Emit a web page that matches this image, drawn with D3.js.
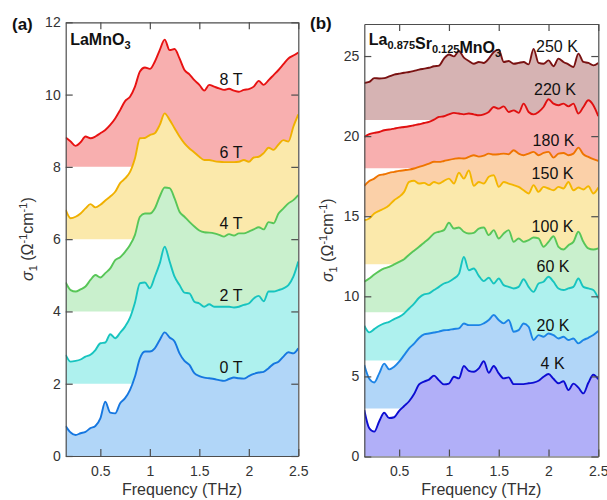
<!DOCTYPE html>
<html>
<head>
<meta charset="utf-8">
<script src="https://cdn.jsdelivr.net/npm/d3@7"></script>
<style>
  body { margin: 0; background: #fff; }
  svg { display: block; font-family: "Liberation Sans", Arial, sans-serif; }
</style>
</head>
<body>
<svg id="fig" width="607" height="500"></svg>
<script>
// Frequency grid (THz) shared by every spectrum
const freqTHz = [0.15, 0.2, 0.25, 0.3, 0.35, 0.4, 0.45, 0.5, 0.55, 0.6,
  0.65, 0.7, 0.75, 0.8, 0.85, 0.9, 0.95, 1.0, 1.05, 1.1,
  1.15, 1.2, 1.25, 1.3, 1.35, 1.4, 1.45, 1.5, 1.55, 1.6,
  1.65, 1.7, 1.75, 1.8, 1.85, 1.9, 1.95, 2.0, 2.05, 2.1,
  2.15, 2.2, 2.25, 2.3, 2.35, 2.4, 2.45, 2.5]

// (a) LaMnO3, sigma_1 as plotted (curves stacked by 2 per field)
const fieldLabels = ["0 T", "2 T", "4 T", "6 T", "8 T"]
const fieldBaselines = [0, 2, 4, 6, 8]
const sigma0T = [0.83, 0.65, 0.58, 0.63, 0.67, 0.77, 0.83, 1.04, 1.50, 1.20,
  1.18, 1.46, 1.60, 1.83, 2.20, 2.70, 2.89, 2.89, 2.98, 3.21,
  3.42, 3.28, 3.17, 2.84, 2.63, 2.52, 2.29, 2.21, 2.17, 2.15,
  2.13, 2.10, 2.08, 2.13, 2.17, 2.15, 2.14, 2.21, 2.27, 2.31,
  2.33, 2.43, 2.55, 2.61, 2.75, 2.87, 2.84, 2.98]
const sigma2T = [2.80, 2.61, 2.63, 2.67, 2.75, 2.80, 2.93, 3.12, 3.14, 3.37,
  3.26, 3.41, 3.58, 3.83, 4.25, 4.78, 4.80, 4.64, 4.96, 5.33,
  5.79, 5.38, 4.96, 4.73, 4.52, 4.50, 4.27, 4.22, 4.13, 4.20,
  4.13, 4.13, 4.13, 4.13, 4.11, 4.13, 4.18, 4.22, 4.36, 4.43,
  4.28, 4.55, 4.55, 4.59, 4.64, 4.73, 4.96, 5.38]
const sigma4T = [4.80, 4.59, 4.55, 4.61, 4.69, 4.87, 5.01, 4.94, 5.06, 5.19,
  5.42, 5.50, 5.65, 5.84, 6.12, 6.62, 6.71, 6.71, 6.85, 7.18,
  7.43, 7.41, 7.13, 6.76, 6.62, 6.48, 6.35, 6.24, 6.19, 6.18,
  6.16, 6.12, 6.07, 6.14, 6.10, 6.16, 6.16, 6.21, 6.27, 6.33,
  6.27, 6.47, 6.44, 6.71, 6.85, 6.99, 7.08, 7.22]
const sigma6T = [6.81, 6.58, 6.62, 6.71, 6.85, 6.97, 6.88, 6.95, 7.07, 7.18,
  7.31, 7.55, 7.68, 7.86, 8.24, 8.79, 8.80, 8.88, 8.93, 9.16,
  9.48, 9.30, 9.07, 8.84, 8.65, 8.51, 8.40, 8.28, 8.19, 8.19,
  8.16, 8.14, 8.13, 8.13, 8.13, 8.14, 8.19, 8.14, 8.26, 8.28,
  8.38, 8.53, 8.47, 8.62, 8.74, 8.70, 9.11, 9.45]
const sigma8T = [8.81, 8.70, 8.58, 8.68, 8.84, 8.79, 8.84, 8.93, 9.02, 9.16,
  9.34, 9.57, 9.82, 9.94, 10.22, 10.64, 10.75, 10.71, 10.91, 11.23,
  11.52, 11.23, 11.26, 11.00, 10.68, 10.56, 10.40, 10.27, 10.11, 10.27,
  10.22, 10.17, 10.13, 10.16, 10.11, 10.08, 10.13, 10.15, 10.22, 10.38,
  10.27, 10.40, 10.54, 10.68, 10.84, 11.00, 11.08, 11.16]

// (b) La0.875Sr0.125MnO3, sigma_1 as plotted (curves stacked by 3 per temperature)
const tempLabels = ["4 K", "20 K", "60 K", "100 K", "150 K", "180 K", "220 K", "250 K"]
const tempBaselines = [0, 3, 6, 9, 12, 15, 18, 21]
const sigma4K = [2.90, 1.76, 1.55, 2.20, 2.73, 2.40, 2.45, 2.85, 3.15, 3.45,
  3.90, 4.50, 4.68, 4.80, 5.05, 4.75, 4.50, 4.55, 4.98, 4.88,
  5.65, 5.35, 5.29, 5.50, 5.95, 5.23, 5.65, 5.19, 4.88, 4.94,
  4.52, 4.52, 4.52, 4.57, 4.61, 4.73, 4.98, 5.15, 4.85, 4.57,
  4.70, 4.15, 4.55, 4.30, 3.94, 4.60, 5.10, 4.82]
const sigma20K = [5.71, 4.85, 4.62, 5.19, 5.80, 5.44, 5.60, 5.92, 6.33, 6.75,
  7.05, 7.40, 7.62, 7.68, 7.74, 7.80, 7.88, 7.90, 7.96, 8.00,
  8.30, 8.20, 8.20, 8.20, 8.31, 8.52, 8.83, 8.52, 8.31, 8.52,
  7.79, 7.89, 8.30, 8.10, 7.27, 7.58, 7.48, 7.68, 7.58, 7.37,
  7.48, 7.27, 7.37, 7.06, 7.27, 7.41, 7.58, 7.83]
const sigma60K = [8.16, 7.75, 7.95, 8.16, 8.31, 8.41, 8.58, 8.72, 8.93, 9.24,
  9.55, 9.91, 10.12, 10.18, 10.39, 10.59, 10.80, 10.91, 11.11, 11.40,
  12.45, 11.63, 11.74, 11.28, 10.95, 11.16, 10.80, 11.11, 10.70, 10.59,
  10.49, 10.59, 11.07, 10.59, 10.28, 10.80, 10.91, 11.22, 10.91, 10.49,
  10.39, 10.49, 10.59, 11.11, 10.59, 10.49, 10.39, 9.87]
const sigma100K = [10.91, 11.11, 11.36, 11.57, 11.74, 11.84, 11.99, 12.15, 12.32, 12.60,
  12.85, 13.09, 13.35, 13.61, 13.92, 14.03, 14.13, 14.59, 14.23, 14.30,
  14.03, 13.92, 13.96, 14.23, 14.30, 13.82, 14.13, 13.61, 13.92, 14.13,
  13.40, 13.61, 13.40, 13.51, 13.67, 13.61, 13.09, 13.40, 13.75, 13.09,
  12.92, 13.19, 13.40, 14.03, 13.40, 12.99, 12.92, 12.99]
const sigma150K = [14.75, 14.86, 15.17, 15.34, 15.48, 15.69, 16.00, 16.21, 16.52, 17.14,
  17.21, 17.04, 17.08, 16.94, 17.14, 17.04, 17.21, 17.35, 17.04, 17.71,
  17.35, 17.85, 16.90, 17.14, 17.04, 17.46, 17.56, 16.83, 17.14, 17.04,
  16.94, 16.83, 16.62, 16.42, 16.94, 16.52, 16.83, 16.73, 16.62, 16.83,
  16.73, 17.14, 16.62, 16.79, 16.67, 16.87, 16.42, 16.79]
const sigma180K = [16.90, 17.20, 17.35, 17.56, 17.62, 17.71, 17.77, 17.83, 17.87, 17.91,
  17.98, 18.08, 18.18, 18.29, 18.40, 18.39, 18.45, 18.52, 18.58, 18.62,
  18.60, 18.70, 18.81, 18.72, 18.78, 18.91, 18.85, 18.87, 18.91, 18.87,
  19.12, 18.91, 18.81, 18.91, 19.02, 18.81, 18.95, 19.02, 18.66, 18.91,
  18.95, 18.81, 18.91, 19.28, 18.87, 18.70, 18.56, 18.45]
const sigma220K = [19.95, 20.12, 20.20, 20.26, 20.37, 20.41, 20.47, 20.53, 20.57, 20.62,
  20.68, 20.74, 20.82, 20.89, 21.03, 21.20, 21.24, 21.36, 21.45, 21.41,
  21.36, 21.41, 21.36, 21.30, 21.36, 21.51, 21.82, 21.72, 21.86, 21.51,
  21.61, 21.45, 22.03, 21.51, 21.36, 21.51, 21.82, 22.30, 22.03, 21.93,
  22.03, 21.86, 22.03, 21.41, 21.82, 22.24, 21.93, 21.24]
const sigma250K = [23.32, 23.38, 23.62, 23.60, 23.62, 23.73, 23.84, 23.90, 23.96, 24.00,
  24.07, 24.15, 24.21, 24.27, 24.36, 24.40, 24.84, 25.10, 24.98, 25.31,
  24.90, 24.69, 24.52, 24.63, 24.57, 24.84, 25.25, 25.40, 24.63, 24.69,
  24.52, 24.57, 24.63, 24.48, 25.45, 24.57, 24.52, 24.73, 24.36, 24.84,
  24.63, 24.48, 24.32, 25.15, 24.63, 24.57, 24.42, 24.57]

const freqTicks = [0.5, 1, 1.5, 2, 2.5]
const fieldTicks = [0, 2, 4, 6, 8, 10, 12]
const tempTicks = [0, 5, 10, 15, 20, 25]

const svg = d3.select("#fig")
const axisColor = "#4d4d4d"

function drawPanel(cfg) {
  const x = d3.scaleLinear().domain([0.15, 2.5]).range([cfg.left, cfg.right])
  const y = d3.scaleLinear().domain(cfg.yDomain).range([cfg.bottom, cfg.top])
  const g = svg.append("g")

  const clipId = "clip-" + cfg.key
  g.append("clipPath").attr("id", clipId)
    .append("rect")
    .attr("x", cfg.left).attr("y", cfg.top)
    .attr("width", cfg.right - cfg.left).attr("height", cfg.bottom - cfg.top)
  const plot = g.append("g").attr("clip-path", `url(#${clipId})`)

  // topmost curve first, so each lower fill sits in front of the one above
  for (let i = cfg.series.length - 1; i >= 0; i--) {
    const s = cfg.series[i]
    const pts = freqTHz.map((f, k) => [f, s.values[k]])
    const area = d3.area()
      .x(d => x(d[0]))
      .y0(y(s.base))
      .y1(d => y(d[1]))
      .curve(d3.curveMonotoneX)
    const line = d3.line()
      .x(d => x(d[0]))
      .y(d => y(d[1]))
      .curve(d3.curveMonotoneX)
    plot.append("path").attr("d", area(pts)).attr("fill", s.fill)
    plot.append("path").attr("d", line(pts))
      .attr("fill", "none")
      .attr("stroke", s.stroke)
      .attr("stroke-width", 1.9)
      .attr("stroke-linejoin", "round")
  }

  // Frame with inward ticks on all sides
  const bottom = g.append("g").attr("transform", `translate(0,${cfg.bottom})`)
    .call(d3.axisBottom(x).tickValues(freqTicks).tickFormat(d3.format("~g"))
      .tickSizeInner(-7).tickSizeOuter(0).tickPadding(10))
  const top = g.append("g").attr("transform", `translate(0,${cfg.top})`)
    .call(d3.axisTop(x).tickValues(freqTicks).tickFormat("")
      .tickSizeInner(-7).tickSizeOuter(0))
  const left = g.append("g").attr("transform", `translate(${cfg.left},0)`)
    .call(d3.axisLeft(y).tickValues(cfg.yTicks).tickFormat(d3.format("d"))
      .tickSizeInner(-7).tickSizeOuter(0).tickPadding(5))
  const right = g.append("g").attr("transform", `translate(${cfg.right},0)`)
    .call(d3.axisRight(y).tickValues(cfg.yTicks).tickFormat("")
      .tickSizeInner(-7).tickSizeOuter(0))

  ;[bottom, top, left, right].forEach(a => {
    a.select(".domain").attr("stroke", axisColor).attr("stroke-width", 1.2)
    a.selectAll(".tick line").attr("stroke", axisColor).attr("stroke-width", 1.2)
    a.selectAll(".tick text")
      .attr("fill", "#333")
      .style("font-family", '"Liberation Sans", Arial, sans-serif')
      .style("font-size", "14px")
  })

  // x label
  g.append("text")
    .attr("x", (cfg.left + cfg.right) / 2)
    .attr("y", 495)
    .attr("text-anchor", "middle")
    .attr("fill", "#333")
    .style("font-size", "16px")
    .text("Frequency (THz)")

  // y label: σ1 (Ω-1cm-1)
  const yl = g.append("text")
    .attr("transform", `translate(${cfg.yLabelX},${(cfg.top + cfg.bottom) / 2}) rotate(-90)`)
    .attr("text-anchor", "middle")
    .attr("fill", "#333")
    .style("font-size", "16px")
  yl.append("tspan").style("font-style", "italic").text("σ")
  yl.append("tspan").attr("dy", 4).style("font-size", "11px").text("1")
  yl.append("tspan").attr("dy", -4).text(" (Ω")
  yl.append("tspan").attr("dy", -6).style("font-size", "11px").text("-1")
  yl.append("tspan").attr("dy", 6).text("cm")
  yl.append("tspan").attr("dy", -6).style("font-size", "11px").text("-1")
  yl.append("tspan").attr("dy", 6).text(")")

  // curve labels
  cfg.series.forEach(s => {
    g.append("text")
      .attr("x", x(s.labelAt[0]))
      .attr("y", y(s.labelAt[1]))
      .attr("fill", "#111")
      .style("font-size", "16px")
      .text(s.label)
  })

  // panel letter
  g.append("text")
    .attr("x", cfg.letterAt[0]).attr("y", cfg.letterAt[1])
    .attr("fill", "#111")
    .style("font-size", "17px").style("font-weight", "bold")
    .text(cfg.letter)

  // compound name with subscripts
  const t = g.append("text")
    .attr("x", cfg.left + 4.5).attr("y", 45)
    .attr("fill", "#111")
    .style("font-size", "16px").style("font-weight", "bold")
  cfg.title.forEach(([txt, sub]) => {
    t.append("tspan").text(txt)
    if (sub) t.append("tspan").attr("dy", 4).style("font-size", "11px").text(sub)
      .clone(true).text(null).attr("dy", -4)
  })
}

const fieldSeries = [sigma0T, sigma2T, sigma4T, sigma6T, sigma8T]
const fieldStrokes = ["#1677e0", "#17c4bf", "#58c658", "#f0b000", "#e81212"]
const fieldFills = ["#b1d6f8", "#aef1ee", "#c9f0cd", "#fbe9ab", "#f8afaf"]
const fieldLabelPos = [[1.705, 2.30], [1.705, 4.29], [1.705, 6.28], [1.705, 8.25], [1.705, 10.27]]

drawPanel({
  key: "a",
  left: 65.7, right: 298.3, top: 22.3, bottom: 456,
  yDomain: [0, 12], yTicks: fieldTicks,
  yLabelX: 33,
  letter: "(a)", letterAt: [12, 30],
  title: [["LaMnO", "3"]],
  series: fieldSeries.map((v, i) => ({
    values: v, base: fieldBaselines[i], label: fieldLabels[i],
    stroke: fieldStrokes[i], fill: fieldFills[i], labelAt: fieldLabelPos[i]
  }))
})

const tempSeries = [sigma4K, sigma20K, sigma60K, sigma100K, sigma150K, sigma180K, sigma220K, sigma250K]
const tempStrokes = ["#0d0dd2", "#1c84e6", "#17c4bf", "#58c658", "#f4b600", "#ef7400", "#e01010", "#7a1212"]
const tempFills = ["#b1aff8", "#b1d6f8", "#aef1ee", "#c9f0cd", "#fbe9ab", "#fbd0a8", "#f8afaf", "#d6b3b3"]
const tempLabelPos = [[1.92, 5.46], [1.88, 7.83], [1.88, 11.5], [1.83, 14.0],
  [1.83, 17.31], [1.84, 19.37], [1.855, 22.55], [1.875, 25.23]]

drawPanel({
  key: "b",
  left: 364.3, right: 598.3, top: 24, bottom: 456.5,
  yDomain: [0, 27], yTicks: tempTicks,
  yLabelX: 333,
  letter: "(b)", letterAt: [310, 29],
  title: [["La", "0.875"], ["Sr", "0.125"], ["MnO", "3"]],
  series: tempSeries.map((v, i) => ({
    values: v, base: tempBaselines[i], label: tempLabels[i],
    stroke: tempStrokes[i], fill: tempFills[i], labelAt: tempLabelPos[i]
  }))
})
</script>
</body>
</html>
